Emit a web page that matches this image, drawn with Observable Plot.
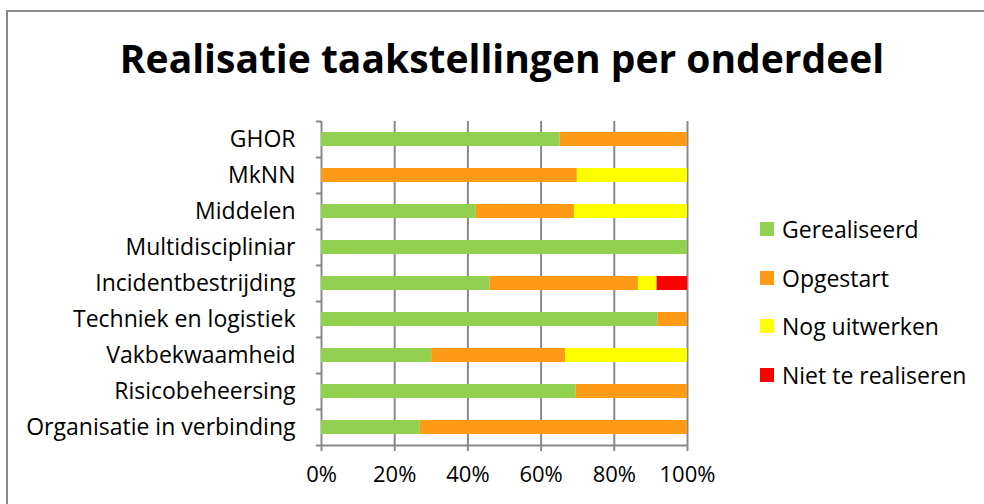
<!DOCTYPE html>
<html><head><meta charset="utf-8">
<script src="https://cdn.jsdelivr.net/npm/d3@7"></script>
<script src="https://cdn.jsdelivr.net/npm/@observablehq/plot@0.6"></script>
<style>
body{margin:0;background:#fff;}
#wrap{position:relative;width:984px;height:504px;overflow:hidden;font-family:"Open Sans", sans-serif;color:#000;}
#border{position:absolute;left:6px;top:10px;width:1100px;height:600px;border:2px solid #898989;box-sizing:border-box;}
#title{position:absolute;left:0;width:1004px;top:33px;text-align:center;font-weight:bold;font-size:39px;line-height:50px;white-space:nowrap;}
#chart{position:absolute;left:0;top:0;}
#legend{position:absolute;left:760px;top:205px;font-size:23px;}
.item{display:flex;align-items:center;height:48.5px;}
.sw{width:14px;height:14px;margin-right:8px;}
</style>
</head><body>
<div id="wrap">
  <div id="border"></div>
  <div id="chart"></div>
  <div id="title">Realisatie taakstellingen per onderdeel</div>
  <div id="legend"></div>
</div>
<script>
const categories = ["GHOR","MkNN","Middelen","Multidiscipliniar","Incidentbestrijding","Techniek en logistiek","Vakbekwaamheid","Risicobeheersing","Organisatie in verbinding"];
const series = ["Gerealiseerd","Opgestart","Nog uitwerken","Niet te realiseren"];
const colors = ["#92D050","#FF9A17","#FFFF00","#FF0000"];
const gerealiseerd     = [65.2, 0,    42.3, 100, 46.0, 91.9, 30.1, 69.6, 27.0];
const opgestart        = [34.8, 69.9, 26.8, 0,   40.6, 8.1,  36.6, 30.4, 73.0];
const nogUitwerken     = [0,    30.1, 30.9, 0,   5.1,  0,    33.3, 0,    0];
const nietTeRealiseren = [0,    0,    0,    0,   8.3,  0,    0,    0,    0];
const xTicks = [0, 20, 40, 60, 80, 100];

const seriesValues = [gerealiseerd, opgestart, nogUitwerken, nietTeRealiseren];
const rows = series.flatMap((s, si) => categories.map((c, ci) => ({series: s, category: c, value: seriesValues[si][ci]})));

const grey = "#898989";
const chart = Plot.plot({
  width: 984, height: 504,
  marginLeft: 321, marginRight: 297, marginTop: 121, marginBottom: 59,
  style: {fontFamily: "'Open Sans', sans-serif", fontSize: "23px", color: "#000", background: "transparent", overflow: "visible"},
  x: {domain: [0, 100], label: null},
  y: {domain: categories, paddingInner: 0.6, paddingOuter: 0.3, label: null},
  color: {domain: series, range: colors},
  marks: [
    Plot.ruleX(xTicks, {stroke: grey, strokeWidth: 2, strokeOpacity: 1}),
    Plot.barX(rows, {y: "category", x: "value", fill: "series"}),
    Plot.ruleY(categories, {y: d => d, dy: 18, x1: -1.4, x2: 0, stroke: grey, strokeWidth: 2}),
    Plot.ruleY(categories.slice(0, 1), {y: d => d, dy: -18, x1: -1.4, x2: 0, stroke: grey, strokeWidth: 2}),
    Plot.ruleY(categories.slice(-1), {y: d => d, dy: 18, stroke: grey, strokeWidth: 2}),
    Plot.axisX({ticks: xTicks, tickSize: 6, tickPadding: 15, tickFormat: d => d + "%", stroke: grey, strokeWidth: 2, fontSize: 22, label: null}),
    Plot.axisY({tickSize: 0, tickPadding: 26, fontSize: 23, label: null})
  ]
});
document.getElementById("chart").appendChild(chart);

const legend = document.getElementById("legend");
series.forEach((s, i) => {
  const item = document.createElement("div");
  item.className = "item";
  const sw = document.createElement("div");
  sw.className = "sw";
  sw.style.background = colors[i];
  const label = document.createElement("span");
  label.textContent = s;
  item.appendChild(sw);
  item.appendChild(label);
  legend.appendChild(item);
});
</script>
</body></html>
